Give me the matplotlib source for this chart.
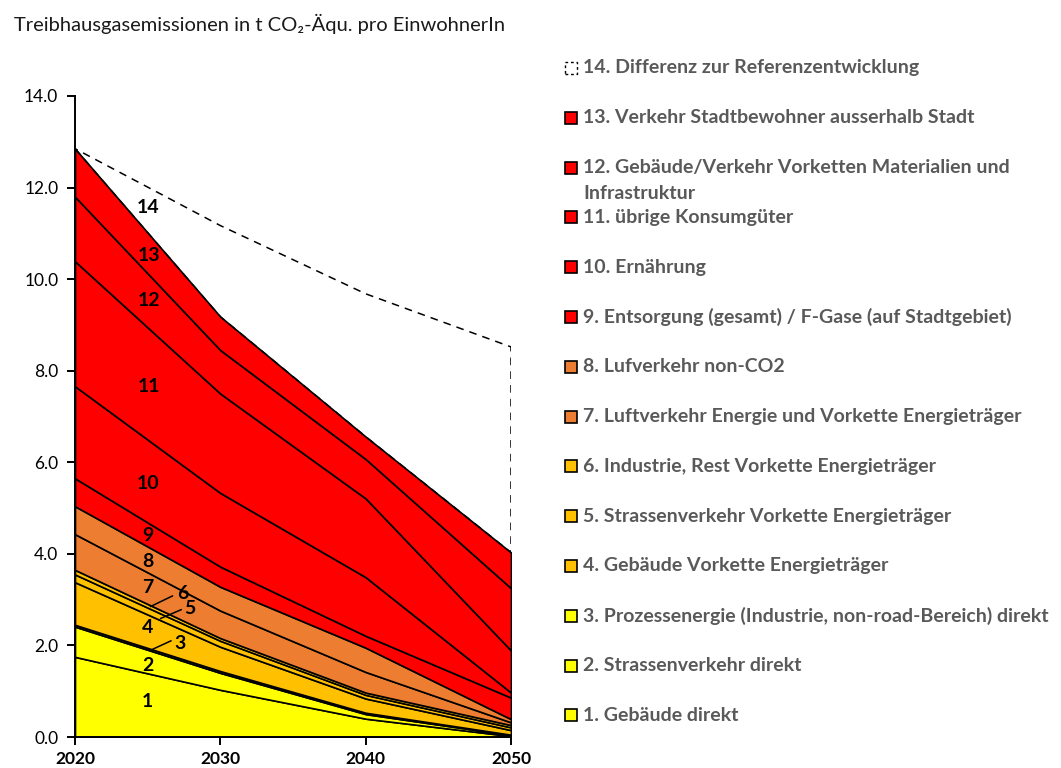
import matplotlib
matplotlib.use("Agg")
import matplotlib.pyplot as plt
from matplotlib.patches import Rectangle
import numpy as np

years = [2020, 2030, 2040, 2050]

# cumulative tops (t CO2-eq per inhabitant)
cum_1 = [1.75, 1.03, 0.40, 0.02]
cum_2 = [2.41, 1.40, 0.50, 0.04]
cum_3 = [2.45, 1.44, 0.53, 0.05]
cum_4 = [3.38, 1.97, 0.84, 0.15]
cum_5 = [3.55, 2.10, 0.92, 0.21]
cum_6 = [3.65, 2.16, 0.97, 0.26]
cum_7 = [4.43, 2.76, 1.42, 0.32]
cum_8 = [5.04, 3.28, 1.95, 0.39]
cum_9 = [5.65, 3.72, 2.21, 0.86]
cum_10 = [7.66, 5.33, 3.49, 0.97]
cum_11 = [10.39, 7.50, 5.21, 1.89]
cum_12 = [11.80, 8.45, 6.07, 3.25]
cum_13 = [12.85, 9.18, 6.56, 4.03]
cum_14 = [12.85, 11.17, 9.68, 8.52]

labels = [
    "1. Gebäude direkt",
    "2. Strassenverkehr direkt",
    "3. Prozessenergie (Industrie, non-road-Bereich) direkt",
    "4. Gebäude Vorkette Energieträger",
    "5. Strassenverkehr Vorkette Energieträger",
    "6. Industrie, Rest Vorkette Energieträger",
    "7. Luftverkehr Energie und Vorkette Energieträger",
    "8. Lufverkehr non-CO2",
    "9. Entsorgung (gesamt) / F-Gase (auf Stadtgebiet)",
    "10. Ernährung",
    "11. übrige Konsumgüter",
    "12. Gebäude/Verkehr Vorketten Materialien und\nInfrastruktur",
    "13. Verkehr Stadtbewohner ausserhalb Stadt",
    "14. Differenz zur Referenzentwicklung",
]
colors = ["#FFFF00", "#FFFF00", "#FFFF00",
          "#FFC000", "#FFC000", "#FFC000",
          "#ED7D31", "#ED7D31",
          "#FF0000", "#FF0000", "#FF0000", "#FF0000", "#FF0000",
          "none"]

cums = [cum_1, cum_2, cum_3, cum_4, cum_5, cum_6, cum_7, cum_8, cum_9,
        cum_10, cum_11, cum_12, cum_13, cum_14]

# in-chart label positions (year, value) and leader lines
lab_pos = {
    "1": (2025.0, 0.77), "2": (2025.0, 1.57), "3": (2027.2, 2.05),
    "4": (2025.0, 2.39), "5": (2027.9, 2.80), "6": (2027.4, 3.14),
    "7": (2025.0, 3.26), "8": (2025.0, 3.83), "9": (2025.0, 4.41),
    "10": (2025.0, 5.53), "11": (2025.1, 7.65), "12": (2025.1, 9.53),
    "13": (2025.1, 10.52), "14": (2025.0, 11.57),
}
leaders = {
    "3": ((2025.3, 1.91), (2026.6, 2.10)),
    "5": ((2025.9, 2.59), (2027.3, 2.78)),
    "6": ((2025.2, 2.85), (2026.7, 3.08)),
}

W, H = 1061, 768
fig = plt.figure(figsize=(W / 100, H / 100), dpi=100)
ax = fig.add_axes([75 / W, (H - 737) / H, 436 / W, 641 / H])

x = np.array(years, dtype=float)
prev = np.zeros(len(years))
for i, c in enumerate(cums):
    top = np.array(c)
    if i == 13:
        ax.fill_between(x, prev, top, facecolor="none", edgecolor="black",
                        linewidth=1.1, linestyle=(0, (5, 4)), zorder=3)
    else:
        ax.fill_between(x, prev, top, facecolor=colors[i], edgecolor="black",
                        linewidth=1.2, zorder=2)
    prev = top

FAM = ["Lato", "DejaVu Sans"]
lab_font = dict(family=FAM, fontweight="bold", fontsize=14, color="black")
for k, (lx, ly) in lab_pos.items():
    ax.text(lx, ly, k, ha="center", va="center", zorder=5, **lab_font)
for k, (p0, p1) in leaders.items():
    ax.plot([p0[0], p1[0]], [p0[1], p1[1]], color="black", lw=1.1, zorder=5)

ax.set_xlim(2020, 2050)
ax.set_ylim(0, 14)
ax.set_xticks(years)
ax.set_xticklabels([str(y) for y in years])
ax.set_yticks(np.arange(0, 14.1, 2))
ax.set_yticklabels([f"{v:.1f}" for v in np.arange(0, 14.1, 2)])
for s in ["top", "right"]:
    ax.spines[s].set_visible(False)
for s in ["left", "bottom"]:
    ax.spines[s].set_linewidth(1.4)
    ax.spines[s].set_color("black")
    ax.spines[s].set_zorder(6)
ax.tick_params(axis="both", direction="out", length=6, width=1.4, color="black")
ax.tick_params(axis="y", pad=6)
ax.tick_params(axis="x", pad=4)
for t in ax.get_yticklabels():
    t.set_fontfamily(FAM)
    t.set_fontsize(12.5)
    t.set_color("black")
for t in ax.get_xticklabels():
    t.set_fontfamily(FAM)
    t.set_fontsize(12.5)
    t.set_fontweight("bold")
    t.set_color("black")

fig.text(14 / W, 1 - 24 / H, "Treibhausgasemissionen in t CO₂-Äqu. pro EinwohnerIn",
         family=FAM, fontsize=14.5, color="#1a1a1a", ha="left", va="center")

# legend drawn in figure pixel coordinates, 14 at top to 1 at bottom
leg_y0 = 68
leg_dy = 49.8
box = 12
LFS = 14
for j, idx in enumerate(range(13, -1, -1)):
    yc = leg_y0 + j * leg_dy
    if idx == 13:
        r = Rectangle((565 / W, 1 - (yc + box / 2) / H), box / W, box / H,
                      transform=fig.transFigure, facecolor="none",
                      edgecolor="black", linewidth=1.0, linestyle=(0, (2, 2)))
    else:
        r = Rectangle((565 / W, 1 - (yc + box / 2) / H), box / W, box / H,
                      transform=fig.transFigure, facecolor=colors[idx],
                      edgecolor="black", linewidth=1.2)
    fig.add_artist(r)
    lines = labels[idx].split("\n")
    for n, line in enumerate(lines):
        fig.text(583 / W, 1 - (yc + 26 * n) / H, line, family=FAM,
                 fontweight="bold", fontsize=LFS, color="#595959",
                 ha="left", va="center")

fig.savefig("out.png", dpi=100)
